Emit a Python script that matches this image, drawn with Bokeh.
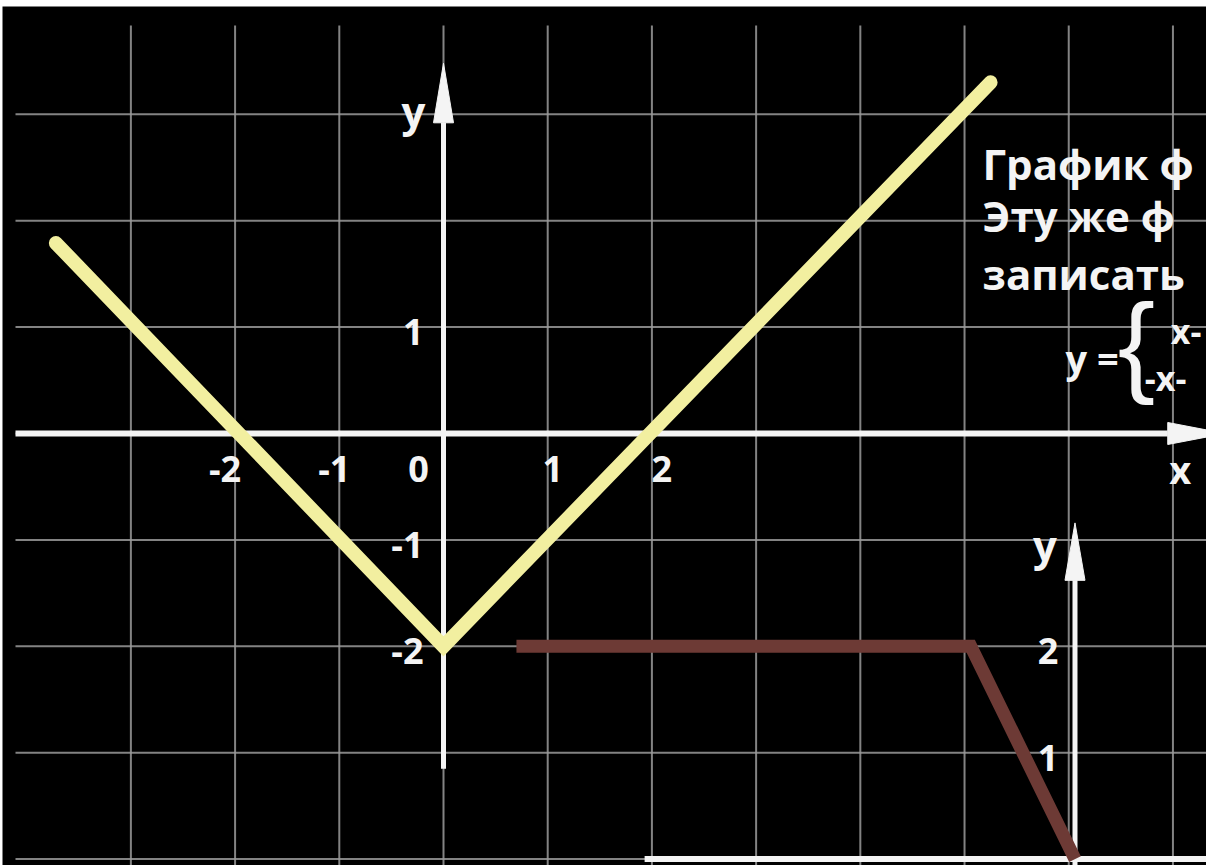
from bokeh.plotting import figure
from bokeh.models import Range1d, Label
from bokeh.embed import file_html
from bokeh.resources import INLINE
from bokeh.core.properties import value

# ---------------- data ----------------
grid_x = [-3, -2, -1, 0, 1, 2, 3, 4, 5, 6, 7]
grid_y = [3, 2, 1, 0, -1, -2, -3, -4]

x_ticks = [-2, -1, 0, 1, 2]
x_tick_labels = ["-2", "-1", "0", "1", "2"]
y_ticks = [1, -1, -2]
y_tick_labels = ["1", "-1", "-2"]

# graph of y = |x| - 2 (yellow)
abs_x = [-3.72, 0.0, 5.25]
abs_y = [1.79, -2.0, 3.30]

# second (small) graph, drawn in its own coordinate system (brown)
g2_x = [-5.36, -1.0, 0.0]
g2_y = [2.0, 2.0, 0.0]
g2_ticks = [2, 1]
g2_tick_labels = ["2", "1"]

# visible parts of the caption (the frame cuts the rest off)
caption_lines = ["График ф", "Эту же ф", "записать"]
piece_lines = ["x-", "-x-"]

# ---------------- layout ----------------
W, H = 1206, 865
BL, BT = 2, 6                        # white border left / top
FW, FH = W - BL, H - BT              # frame size in pixels
X0, X1 = -4.232, 7.322
Y0, Y1 = -4.060, 4.013
G2_OX, G2_OY = 6.06, -4.0            # origin of the second graph in main coords
ux = (X1 - X0) / FW                  # data units per pixel
uy = (Y1 - Y0) / FH

FONT = value("Open Sans")
WHITE = "#f4f4f4"
GRID = "#9a9a9a"

p = figure(width=W, height=H, x_range=Range1d(X0, X1), y_range=Range1d(Y0, Y1),
           x_axis_type=None, y_axis_type=None, toolbar_location=None,
           output_backend="svg", min_border_left=BL, min_border_top=BT,
           min_border_right=0, min_border_bottom=0,
           background_fill_color="black", border_fill_color="white",
           outline_line_color=None)
p.extra_x_ranges = {"g2": Range1d(X0 - G2_OX, X1 - G2_OX)}
p.extra_y_ranges = {"g2": Range1d(Y0 - G2_OY, Y1 - G2_OY)}

# grid
grid_left = X0 + 13 * ux
grid_top = Y1 - 19 * uy
p.segment(x0=grid_x, y0=[grid_top] * len(grid_x), x1=grid_x, y1=[Y0] * len(grid_x),
          line_color=GRID, line_width=2, line_alpha=0.85)
p.segment(x0=[grid_left] * len(grid_y), y0=grid_y, x1=[X1] * len(grid_y), y1=grid_y,
          line_color=GRID, line_width=2, line_alpha=0.85)

# axes with arrow heads
def arrow_up(x, y_from, y_base, y_tip, half_w_px, xr="default", yr="default", lw=5):
    hw = half_w_px * ux
    p.segment(x0=[x], y0=[y_from], x1=[x], y1=[y_base], line_color=WHITE, line_width=lw,
              x_range_name=xr, y_range_name=yr)
    p.patch(x=[x - hw, x + hw, x], y=[y_base, y_base, y_tip], fill_color=WHITE,
            line_color=WHITE, line_width=1, x_range_name=xr, y_range_name=yr)

def arrow_right(y, x_from, x_base, x_tip, half_w_px, lw=5):
    hw = half_w_px * uy
    p.segment(x0=[x_from], y0=[y], x1=[x_base], y1=[y], line_color=WHITE, line_width=lw)
    p.patch(x=[x_base, x_base, x_tip], y=[y - hw, y + hw, y], fill_color=WHITE,
            line_color=WHITE, line_width=1)

arrow_right(0, grid_left, 6.95, 7.5, 11, lw=6)
arrow_up(0, -3.15, 2.92, 3.48, 10, lw=5)

# second graph axes
p.segment(x0=[-4.13], y0=[0], x1=[X1 - G2_OX], y1=[0], line_color=WHITE,
          line_width=6, x_range_name="g2", y_range_name="g2")
arrow_up(0, -0.2, 2.62, 3.16, 10, xr="g2", yr="g2", lw=5)

# curves
p.line(abs_x, abs_y, line_color="#f2efa0", line_width=14, line_cap="round", line_join="miter")
p.line(g2_x, g2_y, line_color="#6d3a35", line_width=13, line_join="miter",
       x_range_name="g2", y_range_name="g2")

# tick labels (main)
x_off = [-25 if v == 0 else 5 * v for v in x_ticks]
p.text(x=x_ticks, y=[0] * len(x_ticks), text=x_tick_labels, x_offset=x_off, y_offset=36,
       text_align="center", text_baseline="middle", text_color=WHITE,
       text_font=FONT, text_font_style="bold", text_font_size="36px")
p.text(x=[0] * len(y_ticks), y=y_ticks, text=y_tick_labels, x_offset=-20, y_offset=5,
       text_align="right", text_baseline="middle", text_color=WHITE,
       text_font=FONT, text_font_style="bold", text_font_size="36px")
p.text(x=[0], y=[3.04], text=["y"], x_offset=-18, text_align="right", text_baseline="middle",
       text_color=WHITE, text_font=FONT, text_font_style="bold", text_font_size="42px")
p.text(x=[7.07], y=[0], text=["x"], y_offset=36, text_align="center", text_baseline="middle",
       text_color=WHITE, text_font=FONT, text_font_style="bold", text_font_size="38px")

# tick labels (second graph)
p.text(x=[0] * len(g2_ticks), y=g2_ticks, text=g2_tick_labels, x_offset=-27, y_offset=5,
       text_align="center", text_baseline="middle", text_color=WHITE,
       text_font=FONT, text_font_style="bold", text_font_size="36px",
       x_range_name="g2", y_range_name="g2")
p.text(x=[0], y=[2.96], text=["y"], x_offset=-30, text_align="center", text_baseline="middle",
       text_color=WHITE, text_font=FONT, text_font_style="bold", text_font_size="42px",
       x_range_name="g2", y_range_name="g2")

# caption
for line, yy in zip(caption_lines, [2.538, 2.049, 1.504]):
    p.add_layout(Label(x=5.173, y=yy, text=line, text_color=WHITE, text_font="Open Sans",
                       text_font_style="bold", text_font_size="42px",
                       text_baseline="alphabetic", text_align="left"))

p.add_layout(Label(x=5.97, y=0.714, text="y =", text_color=WHITE, text_font="Open Sans",
                   text_font_style="bold", text_font_size="38px",
                   text_baseline="middle", text_align="left"))
p.add_layout(Label(x=6.47, y=0.85, text="{", text_color=WHITE, text_font="Liberation Sans",
                   text_font_size="112px", text_baseline="middle", text_align="left"))
for line, xx, yy in zip(piece_lines, [6.98, 6.73], [0.968, 0.526]):
    p.add_layout(Label(x=xx, y=yy, text=line, text_color=WHITE, text_font="Open Sans",
                       text_font_style="bold", text_font_size="34px",
                       text_baseline="middle", text_align="left"))

open("out.html", "w").write(file_html(p, INLINE))
